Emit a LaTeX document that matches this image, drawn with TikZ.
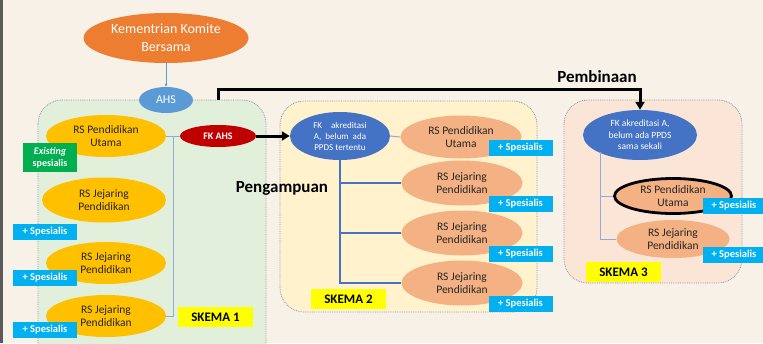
\documentclass[tikz,border=0pt]{standalone}
\usepackage{fontspec}
\setmainfont{Carlito}
\usetikzlibrary{shapes.geometric,arrows.meta}
\definecolor{bgcream}{HTML}{F8F1E8}
\definecolor{korange}{HTML}{ED7D31}
\definecolor{ahsblue}{HTML}{5B9BD5}
\definecolor{fkred}{HTML}{C00000}
\definecolor{rsyellow}{HTML}{FFC000}
\definecolor{rssalmon}{HTML}{F4B183}
\definecolor{fkblue}{HTML}{4472C4}
\definecolor{spcyan}{HTML}{00B0F0}
\definecolor{exgreen}{HTML}{00B050}
\definecolor{skyellow}{HTML}{FFFF00}
\definecolor{panelgreen}{HTML}{E2EFDA}
\definecolor{panelbeige}{HTML}{FFF2CC}
\definecolor{panelpeach}{HTML}{FBE5D6}
\definecolor{panelline}{HTML}{8497B0}
\definecolor{linkblue}{HTML}{8FAADC}
\definecolor{rstext}{HTML}{262626}
\tikzset{
  oval/.style={ellipse, inner sep=0pt, align=center, text=white},
  rsone/.style={oval, fill=rsyellow, text=rstext, minimum width=120pt, minimum height=42pt,
    font=\fontsize{11.5}{13.5}\selectfont},
  rstwo/.style={oval, fill=rssalmon, text=rstext, minimum width=121pt, minimum height=45pt,
    font=\fontsize{11.5}{13.5}\selectfont},
  fkoval/.style={oval, fill=fkblue},
  spesbox/.style={fill=spcyan, text=white, inner sep=0pt, minimum width=64pt, minimum height=16pt,
    font=\bfseries\fontsize{10.5}{12}\selectfont},
  skemabox/.style={fill=skyellow, text=black, inner sep=0pt, minimum width=75pt, minimum height=20pt,
    font=\bfseries\fontsize{13}{14}\selectfont},
  panel/.style={rounded corners=24pt, draw=panelline, densely dotted, line width=0.8pt},
  thinlink/.style={draw=linkblue, line width=1pt},
  fatlink/.style={draw=fkblue, line width=2.5pt},
  bigarrow/.style={line width=3pt, -{Triangle[length=8pt,width=9pt]}},
  bigword/.style={font=\bfseries\fontsize{17}{18}\selectfont}
}
\begin{document}
\begin{tikzpicture}[x=1pt,y=-1pt]
\clip (0,0) rectangle (763,343);
\fill[bgcream] (0,0) rectangle (763,343);
\fill[gray!70!black] (0,0) rectangle (3,343);
% panels
\path[panel, fill=panelgreen] (38,100) rectangle (266,380);
\path[panel, fill=panelbeige] (280,101) rectangle (537,312);
\path[panel, fill=panelpeach] (564,100) rectangle (742,283);
% top
\node[oval, fill=korange, minimum width=165pt, minimum height=50pt,
  font=\fontsize{14}{18}\selectfont] (kkb) at (166,38) {Kementrian Komite\\Bersama};
\node[oval, fill=ahsblue, minimum width=54pt, minimum height=26pt,
  font=\fontsize{12}{13}\selectfont] (ahs) at (166,100) {AHS};
\draw[ahsblue, line width=0.8pt, -{Latex[length=3pt,width=3pt]}] (kkb.south) -- (ahs.north);
% skema 1
\node[rsone] (rs11) at (106,136) {RS Pendidikan\\Utama};
\node[rsone, minimum width=124pt, minimum height=45pt] (rs12) at (104,200) {RS Jejaring\\Pendidikan};
\node[rsone] (rs13) at (106,263) {RS Jejaring\\Pendidikan};
\node[rsone] (rs14) at (106,316) {RS Jejaring\\Pendidikan};
\node[oval, fill=fkred, minimum width=76pt, minimum height=22pt,
  font=\bfseries\fontsize{10}{11}\selectfont] (fkahs) at (218,136) {FK AHS};
\coordinate (j1) at (173,136);
\draw[thinlink] (rs11.east) -- (fkahs.west);
\draw[thinlink] (j1) |- (rs14.east);
\node[fill=exgreen, text=white, inner sep=0pt, minimum width=54pt, minimum height=29pt, align=center,
  font=\bfseries\fontsize{10}{12}\selectfont] (exsp) at (50,157.5) {\textit{Existing}\\spesialis};
\node[spesbox] (sp11) at (45,231.5) {+ Spesialis};
\node[spesbox] (sp12) at (45,278) {+ Spesialis};
\node[spesbox] (sp13) at (45,330) {+ Spesialis};
\node[skemabox] (sk1) at (215.5,317) {SKEMA 1};
% skema 2
\node[fkoval, minimum width=100pt, minimum height=48pt,
  font=\fontsize{9}{11}\selectfont] (fk2) at (340,136) {FK\quad akreditasi\\A,\ \ belum\ \ ada\\PPDS tertentu};
\node[rstwo, minimum height=43pt] (rs21) at (461,137) {RS Pendidikan\\Utama};
\node[rstwo] (rs22) at (462,183) {RS Jejaring\\Pendidikan};
\node[rstwo] (rs23) at (462,233) {RS Jejaring\\Pendidikan};
\node[rstwo] (rs24) at (462,283) {RS Jejaring\\Pendidikan};
\draw[bigarrow] (fkahs.east) -- (fk2.west);
\draw[thinlink] (fk2.east) -- (rs21.west);
\draw[fatlink] (fk2.south) |- (rs24.west);
\draw[fatlink] (fk2.south |- rs22.west) -- (rs22.west);
\draw[fatlink] (fk2.south |- rs23.west) -- (rs23.west);
\node[spesbox] (sp21) at (520.5,148) {+ Spesialis};
\node[spesbox] (sp22) at (520.5,204) {+ Spesialis};
\node[spesbox] (sp23) at (520.5,254) {+ Spesialis};
\node[spesbox] (sp24) at (520.5,304) {+ Spesialis};
\node[skemabox] (sk2) at (348.5,299) {SKEMA 2};
\node[bigword] (pengampuan) at (282,188) {Pengampuan};
% skema 3
\node[fkoval, minimum width=114pt, minimum height=50pt,
  font=\fontsize{9.5}{11.5}\selectfont] (fk3) at (640,135) {FK akreditasi A,\\belum ada PPDS\\sama sekali};
\node[rstwo, minimum width=117pt, minimum height=35pt, draw=black, line width=2.8pt] (rs31) at (673,196) {RS Pendidikan\\Utama};
\node[rstwo, minimum width=113pt, minimum height=38pt] (rs32) at (673,239) {RS Jejaring\\Pendidikan};
\coordinate (k3) at (600,152);
\draw[thinlink] (k3) |- (rs32.west);
\draw[thinlink] (k3 |- rs31.west) -- (rs31.west);
\node[spesbox, minimum width=62pt] (sp31) at (734,206) {+ Spesialis};
\node[spesbox, minimum width=62pt] (sp32) at (734,254.5) {+ Spesialis};
\node[skemabox] (sk3) at (623.5,272) {SKEMA 3};
% pembinaan
\coordinate (pb) at (218,100);
\draw[bigarrow] (pb) -- (218,89) -| (fk3.north);
\node[bigword] (pembinaan) at (597,77) {Pembinaan};
\end{tikzpicture}
\end{document}
